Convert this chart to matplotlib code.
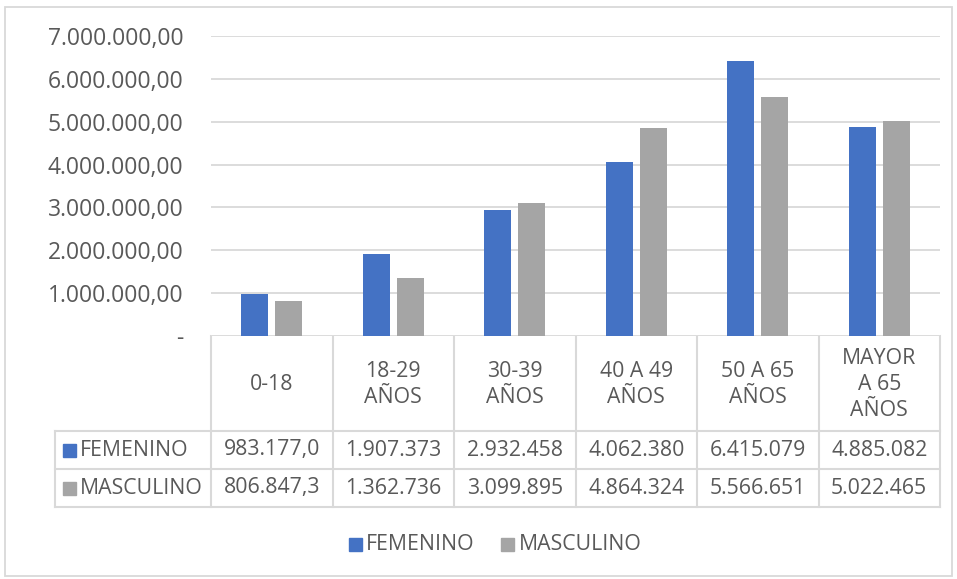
import matplotlib.pyplot as plt
from matplotlib.patches import Rectangle

categorias = ['0-18', '18-29\nAÑOS', '30-39\nAÑOS', '40 A 49\nAÑOS', '50 A 65\nAÑOS', 'MAYOR\nA 65\nAÑOS']
femenino = [983177.0, 1907373, 2932458, 4062380, 6415079, 4885082]
masculino = [806847.3, 1362736, 3099895, 4864324, 5566651, 5022465]
series = ['FEMENINO', 'MASCULINO']
yticks = [0, 1e6, 2e6, 3e6, 4e6, 5e6, 6e6, 7e6]
ytick_labels = ['-', '1.000.000,00', '2.000.000,00', '3.000.000,00', '4.000.000,00',
                '5.000.000,00', '6.000.000,00', '7.000.000,00']

AZUL = '#4472C4'
GRIS = '#A5A5A5'
TXT = '#595959'
LINEA = '#D9D9D9'
FS = 15.3
plt.rcParams['font.family'] = ['Open Sans', 'DejaVu Sans']


def fmt(v):
    s = f'{v:,.1f}' if v < 1e6 else f'{v:,.0f}'
    return s.replace(',', '#').replace('.', ',').replace('#', '.')


W, H = 957, 579
fig = plt.figure(figsize=(W / 100, H / 100), dpi=100)

# area de barras (en pixeles: x 211-940, y 36-336)
x0, x1, ytop, ybase = 211, 940, 36, 336
ax = fig.add_axes([x0 / W, 1 - ybase / H, (x1 - x0) / W, (ybase - ytop) / H])
n = len(categorias)
xs = list(range(n))
ax.bar([x - 0.14 for x in xs], femenino, width=0.22, color=AZUL, zorder=3)
ax.bar([x + 0.14 for x in xs], masculino, width=0.22, color=GRIS, zorder=3)
ax.set_xlim(-0.5, n - 0.5)
ax.set_ylim(0, 7e6)
ax.set_yticks(yticks)
ax.set_yticklabels(ytick_labels, fontsize=16.5, color=TXT)
ax.tick_params(axis='y', length=0, pad=20)
ax.set_xticks([])
for s in ax.spines.values():
    s.set_visible(False)
ax.grid(axis='y', color=LINEA, linewidth=1.3, zorder=0)

# capa de tabla y borde en pixeles
ov = fig.add_axes([0, 0, 1, 1], zorder=-1)
ov.set_xlim(0, W)
ov.set_ylim(H, 0)
ov.axis('off')
ov.add_patch(Rectangle((5, 7), 947, 569, fill=False, edgecolor=LINEA, linewidth=1.3))

colw = (x1 - x0) / n
edges = [x0 + i * colw for i in range(n + 1)]
leg_x = 55
r_head, r1, r2, r3 = 336, 431, 469, 507
for e in edges:
    ov.plot([e, e], [r_head, r3], color=LINEA, lw=1.5)
ov.plot([leg_x, leg_x], [r1, r3], color=LINEA, lw=1.5)
for yy in (r1, r2, r3):
    ov.plot([leg_x, x1], [yy, yy], color=LINEA, lw=1.5)

for i, c in enumerate(categorias):
    cx = edges[i] + colw / 2
    ov.text(cx, (r_head + r1) / 2 + 1, c, ha='center', va='center', fontsize=FS,
            color=TXT, linespacing=1.3)
    ov.text(cx, (r1 + r2) / 2, fmt(femenino[i]), ha='center', va='center', fontsize=FS, color=TXT)
    ov.text(cx, (r2 + r3) / 2, fmt(masculino[i]), ha='center', va='center', fontsize=FS, color=TXT)

for (ya, yb), nombre, col in zip([(r1, r2), (r2, r3)], series, [AZUL, GRIS]):
    ym = (ya + yb) / 2
    ov.add_patch(Rectangle((63, ym - 6.5), 13, 13, color=col))
    ov.text(80, ym, nombre, ha='left', va='center', fontsize=FS, color=TXT)

# leyenda inferior
ov.add_patch(Rectangle((349, 538), 13, 13, color=AZUL))
ov.text(366, 544.5, series[0], ha='left', va='center', fontsize=FS, color=TXT)
ov.add_patch(Rectangle((501, 538), 13, 13, color=GRIS))
ov.text(519, 544.5, series[1], ha='left', va='center', fontsize=FS, color=TXT)

fig.savefig('out.png', dpi=100)
plt.close(fig)
